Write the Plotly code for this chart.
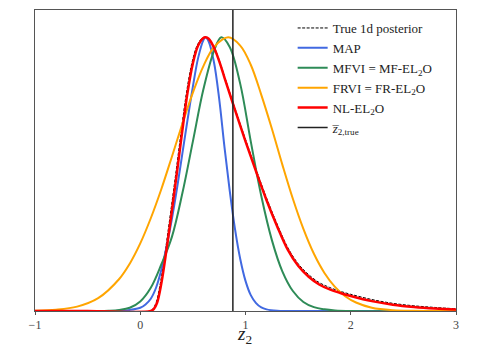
import plotly.graph_objects as go

# Valores (densidades normalizadas a pico = 1)
true_x = [-1.0, -0.5, 0.09, 0.12, 0.15, 0.19, 0.24, 0.29, 0.34, 0.39, 0.44, 0.49, 0.54, 0.59,
          0.615, 0.65, 0.70, 0.75, 0.80, 0.90, 1.0, 1.1, 1.2, 1.3, 1.4, 1.5, 1.6, 1.7, 1.8,
          1.9, 2.0, 2.2, 2.4, 2.6, 2.8, 3.0]
true_y = [0.0, 0.0, 0.0, 0.008, 0.03, 0.10, 0.225, 0.365, 0.51, 0.66, 0.80, 0.905, 0.97,
          0.998, 1.0, 0.995, 0.966, 0.917, 0.858, 0.74, 0.627, 0.518, 0.413, 0.318, 0.233,
          0.173, 0.133, 0.104, 0.086, 0.072, 0.061, 0.042, 0.028, 0.019, 0.013, 0.008]

map_x = [-1.0, -0.3, -0.2, -0.1, 0.0, 0.05, 0.10, 0.15, 0.20, 0.25, 0.30, 0.35, 0.40, 0.45,
         0.50, 0.55, 0.60, 0.62, 0.65, 0.70, 0.75, 0.80, 0.85, 0.90, 0.95, 1.0, 1.05, 1.1,
         1.15, 1.2, 1.3, 1.4, 3.0]
map_y = [0.0, 0.0, 0.001, 0.004, 0.012, 0.024, 0.045, 0.085, 0.15, 0.235, 0.335, 0.45, 0.575,
         0.70, 0.82, 0.925, 0.99, 1.0, 0.985, 0.91, 0.775, 0.60, 0.44, 0.30, 0.19, 0.11, 0.058,
         0.029, 0.013, 0.006, 0.001, 0.0, 0.0]

mfvi_x = [-1.0, -0.4, -0.3, -0.2, -0.1, 0.0, 0.1, 0.2, 0.3, 0.4, 0.5, 0.6, 0.7, 0.77, 0.85,
          0.95, 1.05, 1.15, 1.25, 1.35, 1.45, 1.55, 1.65, 1.75, 1.85, 2.0, 3.0]
mfvi_y = [0.0, 0.0, 0.001, 0.004, 0.012, 0.035, 0.085, 0.17, 0.27, 0.43, 0.62, 0.81, 0.95, 1.0,
          0.965, 0.83, 0.62, 0.42, 0.26, 0.145, 0.073, 0.033, 0.014, 0.006, 0.002, 0.0, 0.0]

frvi_x = [-1.0, -0.8, -0.6, -0.4, -0.2, -0.1, 0.0, 0.1, 0.2, 0.3, 0.4, 0.5, 0.6, 0.7, 0.836,
          0.95, 1.05, 1.15, 1.25, 1.35, 1.45, 1.55, 1.65, 1.75, 1.85, 1.95, 2.05, 2.2, 2.4,
          2.6, 3.0]
frvi_y = [0.0012, 0.0047, 0.016, 0.047, 0.117, 0.173, 0.247, 0.339, 0.445, 0.563, 0.684, 0.798,
          0.895, 0.964, 1.0, 0.97, 0.90, 0.79, 0.667, 0.535, 0.41, 0.30, 0.209, 0.139, 0.088,
          0.053, 0.031, 0.012, 0.003, 0.0007, 0.0]

nl_x = [-1.0, -0.5, 0.10, 0.13, 0.16, 0.20, 0.25, 0.30, 0.35, 0.40, 0.45, 0.50, 0.55, 0.60,
        0.62, 0.65, 0.70, 0.75, 0.80, 0.90, 1.0, 1.1, 1.2, 1.3, 1.4, 1.5, 1.6, 1.7, 1.8, 1.9,
        2.0, 2.2, 2.4, 2.6, 2.8, 3.0]
nl_y = [0.0, 0.0, 0.0, 0.008, 0.03, 0.10, 0.225, 0.365, 0.51, 0.66, 0.80, 0.905, 0.97, 0.998,
        1.0, 0.995, 0.963, 0.913, 0.853, 0.735, 0.62, 0.51, 0.405, 0.31, 0.225, 0.165, 0.125,
        0.097, 0.079, 0.066, 0.055, 0.036, 0.023, 0.0145, 0.009, 0.0055]

z2_true = 0.88
tick_vals = [-1, 0, 1, 2, 3]
tick_text = ['\u22121', '0', '1', '2', '3']

fig = go.Figure()

curva = dict(shape='spline', smoothing=1.0)
fig.add_trace(go.Scatter(x=true_x, y=true_y, mode='lines', name='True 1d posterior',
                         line=dict(color='black', width=1, dash='3px,1.5px', **curva)))
fig.add_trace(go.Scatter(x=map_x, y=map_y, mode='lines', name='MAP',
                         line=dict(color='royalblue', width=2, **curva)))
fig.add_trace(go.Scatter(x=mfvi_x, y=mfvi_y, mode='lines', name='MFVI = MF-EL<sub>2</sub>O',
                         line=dict(color='seagreen', width=2, **curva)))
fig.add_trace(go.Scatter(x=frvi_x, y=frvi_y, mode='lines', name='FRVI = FR-EL<sub>2</sub>O',
                         line=dict(color='orange', width=2, **curva)))
fig.add_trace(go.Scatter(x=nl_x, y=nl_y, mode='lines', name='NL-EL<sub>2</sub>O',
                         line=dict(color='red', width=2.5, **curva)))
fig.add_trace(go.Scatter(x=[z2_true, z2_true], y=[0, 1.1], mode='lines',
                         name='<i>z\u0305</i><sub>2,true</sub>',
                         line=dict(color='#222222', width=1.5)))

# Etiqueta del eje x como anotación para no mover el área del gráfico
fig.add_annotation(text='<i>z</i><sub>2</sub>', xref='paper', yref='paper', x=0.497, y=-0.079,
                   xanchor='center', yanchor='middle', showarrow=False,
                   font=dict(size=19, color='#222222'))

fig.update_layout(
    width=491, height=344,
    margin=dict(l=35, r=35, t=10, b=33, autoexpand=False),
    paper_bgcolor='white', plot_bgcolor='white',
    font=dict(family='Liberation Serif, DejaVu Serif, serif', size=13, color='#222222'),
    showlegend=True,
    legend=dict(x=0.612, y=0.99, xanchor='left', yanchor='top', bgcolor='rgba(0,0,0,0)',
                borderwidth=0, font=dict(size=13), tracegroupgap=0),
    xaxis=dict(range=[-1, 3], tickvals=tick_vals, ticktext=tick_text, showgrid=False,
               zeroline=False, showline=True, mirror=True, linecolor='#555555', linewidth=1,
               ticks='outside', ticklen=3, tickcolor='#555555', automargin=False,
               tickfont=dict(size=12, color='#444444')),
    yaxis=dict(range=[0, 1.10], showticklabels=False, showgrid=False, zeroline=False,
               showline=True, mirror=True, linecolor='#555555', linewidth=1, ticks='',
               automargin=False),
)

# Quitar el margen por defecto del <body> para que la figura quede en (0, 0)
fig.write_html("out.html", config={'displayModeBar': False},
               post_script="document.body.style.margin='0';")
